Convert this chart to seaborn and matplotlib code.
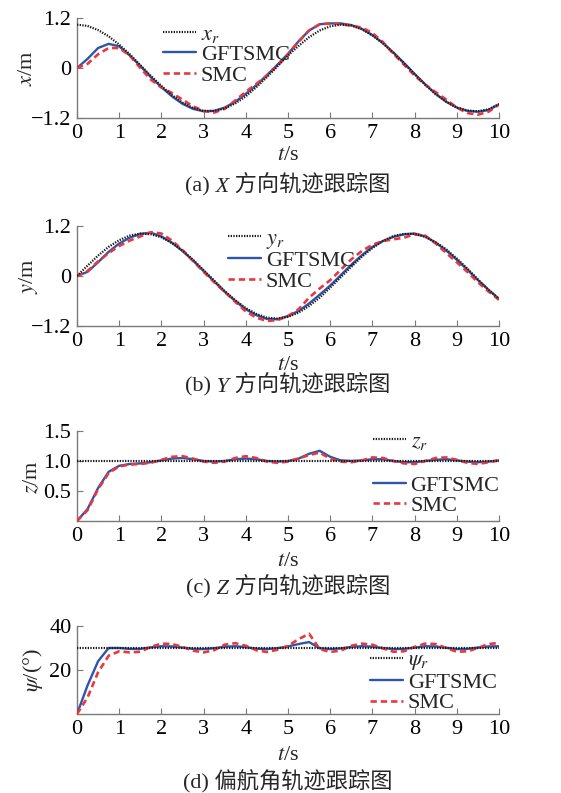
import numpy as np
import matplotlib
matplotlib.use("Agg")
import matplotlib.pyplot as plt
import seaborn as sns
from matplotlib.offsetbox import TextArea, HPacker, AnchoredOffsetbox

# time grid (s)
t = np.linspace(0, 10, 41)

# (a) X direction
x_ref = [1.04, 1.01, 0.91, 0.76, 0.56, 0.33, 0.07, -0.19, -0.43, -0.65, -0.83,
         -0.96, -1.03, -1.03, -0.97, -0.85, -0.68, -0.46, -0.22, 0.04, 0.30,
         0.53, 0.74, 0.90, 1.00, 1.04, 1.02, 0.93, 0.78, 0.59, 0.36,
         0.11, -0.15, -0.40, -0.63, -0.81, -0.95, -1.02, -1.04, -0.99, -0.87]
x_gft = [0.0, 0.22, 0.48, 0.58, 0.52, 0.30, 0.05, -0.22, -0.46, -0.68, -0.86,
         -0.98, -1.04, -1.03, -0.95, -0.81, -0.62, -0.41, -0.17, 0.08, 0.34,
         0.64, 0.90, 1.05, 1.07, 1.07, 1.03, 0.94, 0.79, 0.60, 0.37,
         0.12, -0.14, -0.39, -0.62, -0.81, -0.95, -1.03, -1.05, -1.01, -0.87]
x_smc = [0.0, 0.10, 0.33, 0.48, 0.48, 0.30, 0.00, -0.28, -0.47, -0.60, -0.76,
         -0.92, -1.03, -1.07, -0.98, -0.78, -0.57, -0.38, -0.18, 0.06, 0.33,
         0.63, 0.90, 1.05, 1.07, 1.05, 1.02, 0.97, 0.84, 0.62, 0.34,
         0.08, -0.18, -0.40, -0.58, -0.76, -0.95, -1.08, -1.12, -1.05, -0.88]

# (b) Y direction
y_ref = [0.0, 0.25, 0.49, 0.70, 0.86, 0.97, 1.02, 1.00, 0.93, 0.79, 0.61,
         0.39, 0.14, -0.11, -0.36, -0.58, -0.77, -0.91, -1.00, -1.02, -0.98,
         -0.88, -0.72, -0.52, -0.28, -0.03, 0.22, 0.46, 0.67, 0.84, 0.96,
         1.01, 1.01, 0.94, 0.81, 0.64, 0.42, 0.18, -0.08, -0.33, -0.55]
y_gft = [0.0, 0.10, 0.33, 0.58, 0.78, 0.92, 1.01, 1.04, 0.95, 0.80, 0.60,
         0.37, 0.12, -0.13, -0.38, -0.60, -0.80, -0.94, -1.03, -1.04, -0.96,
         -0.84, -0.66, -0.45, -0.23, 0.02, 0.27, 0.50, 0.70, 0.84, 0.94,
         1.00, 1.02, 0.95, 0.80, 0.61, 0.39, 0.15, -0.10, -0.33, -0.55]
y_smc = [0.0, 0.12, 0.35, 0.55, 0.72, 0.85, 0.95, 1.05, 1.02, 0.85, 0.62,
         0.36, 0.10, -0.15, -0.38, -0.62, -0.85, -1.00, -1.08, -1.06, -0.96,
         -0.80, -0.52, -0.30, -0.10, 0.15, 0.40, 0.60, 0.75, 0.84, 0.88,
         0.92, 1.00, 0.97, 0.78, 0.55, 0.33, 0.10, -0.15, -0.37, -0.57]

# (c) Z direction
z_ref = 1.0
z_gft = [0.0, 0.20, 0.55, 0.82, 0.92, 0.95, 0.96, 0.98, 1.01, 1.04, 1.05,
         1.03, 1.00, 0.99, 1.00, 1.03, 1.04, 1.03, 1.00, 0.99, 1.00,
         1.04, 1.12, 1.17, 1.07, 1.01, 1.00, 1.01, 1.03, 1.03, 1.00,
         0.98, 0.98, 1.00, 1.02, 1.03, 1.01, 0.99, 0.98, 0.99, 1.01]
z_smc = [0.0, 0.18, 0.53, 0.80, 0.91, 0.94, 0.95, 0.97, 1.02, 1.07, 1.08,
         1.04, 0.99, 0.97, 0.99, 1.05, 1.08, 1.05, 0.99, 0.97, 0.99,
         1.04, 1.10, 1.14, 1.04, 0.99, 0.98, 1.01, 1.06, 1.05, 1.00,
         0.96, 0.95, 1.00, 1.05, 1.06, 1.02, 0.97, 0.95, 0.98, 1.01]

# (d) yaw angle
psi_ref = 30.0
psi_gft = [0.0, 13.0, 24.0, 30.0, 30.0, 29.6, 29.6, 30.3, 30.8, 30.7, 30.2,
           29.6, 29.5, 29.9, 30.6, 30.8, 30.4, 29.7, 29.5, 29.9, 30.7,
           31.8, 32.7, 29.9, 29.5, 29.8, 30.5, 30.8, 30.6, 30.0, 29.5,
           29.6, 30.2, 30.8, 30.7, 30.1, 29.5, 29.6, 30.2, 30.7, 30.8]
psi_smc = [0.0, 7.5, 19.0, 26.5, 28.5, 28.0, 28.3, 30.5, 32.0, 31.8, 30.5,
           28.8, 28.0, 29.0, 31.5, 32.2, 31.0, 29.0, 28.2, 29.2, 31.0,
           34.0, 36.5, 29.5, 28.2, 28.8, 31.0, 32.0, 31.5, 29.8, 28.3,
           28.5, 30.5, 32.0, 31.8, 30.0, 28.3, 28.5, 30.0, 31.8, 32.3]

sns.set_theme(style="ticks")
plt.rcParams["font.family"] = ["Liberation Serif", "Noto Sans CJK SC"]
plt.rcParams["mathtext.fontset"] = "stix"
plt.rcParams["axes.unicode_minus"] = True

W, H = 561, 793
BLUE = "#2f55a8"
RED = "#e8383d"
FS = 16

fig = plt.figure(figsize=(W / 100, H / 100), dpi=100)


def make_axes(top, bottom):
    return fig.add_axes([77 / W, 1 - bottom / H, 422 / W, (bottom - top) / H])


def style_axes(ax, yticks, ylabels, ylim):
    ax.set_xlim(0, 10)
    ax.set_ylim(*ylim)
    ax.set_xticks(range(11))
    ax.set_yticks(yticks)
    ax.set_yticklabels(ylabels)
    ax.set_xlabel("")
    ax.set_ylabel("")
    sns.despine(ax=ax)
    for s in ["left", "bottom"]:
        ax.spines[s].set_color("#7a7a7a")
        ax.spines[s].set_linewidth(1.0)
    ax.tick_params(direction="in", length=4, width=0.8, color="#7a7a7a",
                   labelsize=FS, labelcolor="black", pad=4)


def draw(ax, ref, gft, smc):
    sns.lineplot(x=t, y=gft, ax=ax, color=BLUE, lw=1.7, zorder=3)
    sns.lineplot(x=t, y=smc, ax=ax, color=RED, lw=1.9,
                 linestyle=(0, (2.4, 1.5)), zorder=4)
    sns.lineplot(x=t, y=ref, ax=ax, color="#1a1a1a", lw=1.6,
                 linestyle=(0, (0.6, 0.6)), zorder=5)
    lines = ax.get_lines()
    return lines[2], lines[0], lines[1]


def legend(ax, handles, labels, x, y):
    leg = ax.legend(handles, labels, loc="upper left", bbox_to_anchor=(x, y),
                    frameon=False, fontsize=FS, handlelength=1.5,
                    handletextpad=0.2, labelspacing=0.0, borderpad=0,
                    borderaxespad=0)
    return leg


def fig_text(xpix, ypix, s, **kw):
    fig.text(xpix / W, 1 - ypix / H, s, ha="center", va="center",
             fontsize=FS, **kw)


def caption(ypix, parts):
    boxes = []
    for s, sty in parts:
        boxes.append(TextArea(s, textprops=dict(fontsize=FS, style=sty,
                     family=["Liberation Serif", "Noto Sans CJK SC"])))
    pack = HPacker(children=boxes, align="baseline", pad=0, sep=0)
    box = AnchoredOffsetbox(loc="center", child=pack, pad=0, borderpad=0,
                            bbox_to_anchor=(288 / W, 1 - ypix / H),
                            bbox_transform=fig.transFigure, frameon=False)
    fig.add_artist(box)


# (a)
ax = make_axes(18, 118)
r, g, s = draw(ax, x_ref, x_gft, x_smc)
style_axes(ax, [-1.2, 0, 1.2], ["\u22121.2", "0", "1.2"], (-1.2, 1.2))
legend(ax, [r, g, s], ["$x_r$", "GFTSMC", "SMC"], 0.204, 0.94)
fig_text(28, 68, "$x$/m", rotation=90)
fig_text(288, 155, "$t$/s")
caption(186, [("(a)", "normal"), (" X", "italic"), (" 方向轨迹跟踪图", "normal")])

# (b)
ax = make_axes(226, 326)
r, g, s = draw(ax, y_ref, y_gft, y_smc)
style_axes(ax, [-1.2, 0, 1.2], ["\u22121.2", "0", "1.2"], (-1.2, 1.2))
legend(ax, [r, g, s], ["$y_r$", "GFTSMC", "SMC"], 0.358, 0.98)
fig_text(28, 276, "$y$/m", rotation=90)
fig_text(288, 366, "$t$/s")
caption(386, [("(b)", "normal"), (" Y", "italic"), (" 方向轨迹跟踪图", "normal")])

# (c)
ax = make_axes(431, 521)
r, g, s = draw(ax, [z_ref] * len(t), z_gft, z_smc)
style_axes(ax, [0.5, 1.0, 1.5], ["0.5", "1.0", "1.5"], (0, 1.5))
leg1 = legend(ax, [r], ["$z_r$"], 0.701, 1.0)
ax.add_artist(leg1)
legend(ax, [g, s], ["GFTSMC", "SMC"], 0.701, 0.51)
fig_text(33, 477, "$z$/m", rotation=90)
fig_text(288, 562, "$t$/s")
caption(588, [("(c)", "normal"), (" Z", "italic"), (" 方向轨迹跟踪图", "normal")])

# (d)
ax = make_axes(626, 714)
r, g, s = draw(ax, [psi_ref] * len(t), psi_gft, psi_smc)
style_axes(ax, [20, 40], ["20", "40"], (0, 40))
legend(ax, [r, g, s], ["$\\psi_r$", "GFTSMC", "SMC"], 0.694, 0.73)
fig_text(33, 670, "$\\psi$/(°)", rotation=90)
fig_text(288, 755, "$t$/s")
caption(782, [("(d) 偏航角轨迹跟踪图", "normal")])

fig.savefig("out.png", dpi=100)
